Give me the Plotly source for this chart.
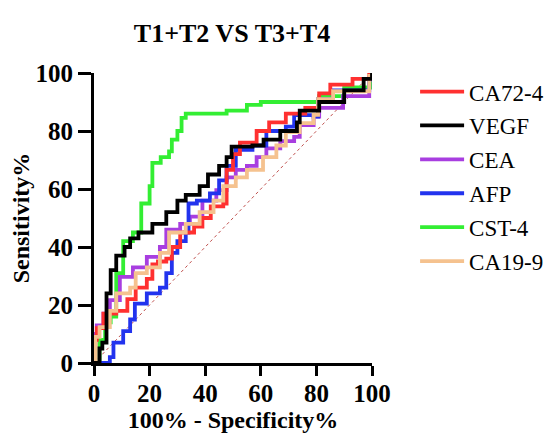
import plotly.graph_objects as go

# ---- data ----
names = ["CA72-4", "VEGF", "CEA", "AFP", "CST-4", "CA19-9"]
colors = ["#ff3030", "#000000", "#a83ee0", "#2233ee", "#33ee33", "#f5c28f"]

ca724_x = [0, 0.5, 1, 3.4, 8, 12, 15, 19, 21, 23, 26, 28, 31, 36, 39, 42, 46.5, 47.7, 50, 52.5, 58.5, 63, 69, 76, 81, 85, 93, 99, 100]
ca724_y = [0, 8, 12, 17, 18, 22, 26, 29, 34, 35, 36, 40, 45, 47, 50, 54, 55, 66.6, 72, 76, 80, 83, 86, 88, 93, 96, 98, 100, 100]

vegf_x = [0, 2, 3, 4.5, 6, 8, 11, 13, 16, 21, 24, 26, 30, 33, 38, 41, 45, 47.7, 49.5, 57, 61, 65.6, 67, 70, 73, 74, 79, 81, 90, 97, 100]
vegf_y = [0, 5, 7, 24, 32, 37, 40, 43, 45, 48, 48, 52, 56, 58, 61, 65, 68, 71, 74.6, 75, 77, 77, 80, 80, 83, 87, 87, 90, 94, 98, 100]

cea_x = [0, 1, 3.4, 5.7, 9.3, 14, 19, 23.7, 26, 31, 34.5, 39, 44, 47.7, 51, 55, 58.5, 62, 67, 72, 74, 79, 81, 89.6, 99, 100]
cea_y = [10, 13, 17, 21.7, 29.7, 33, 36.6, 40, 46, 48, 50.5, 56, 59.6, 64, 66.6, 68, 71, 74, 76.5, 78, 82, 85, 88, 92, 97.7, 100]

afp_x = [0, 2, 5.7, 7, 10.5, 13, 14.7, 19, 23.7, 26, 28, 30, 33, 34, 37, 41.7, 45, 47.7, 51, 57, 62, 69, 72, 79, 80.6, 86, 99, 100]
afp_y = [0, 0, 2, 7, 11, 15, 20.5, 24, 26, 31, 38, 42, 45, 55, 56, 58.5, 63, 68, 73.5, 75, 80, 81.5, 85.5, 85, 91, 94, 98.5, 100]

cst4_x = [0, 2, 4, 6, 8, 10.5, 14, 17, 20, 21, 24, 27, 28, 30, 31.5, 33, 43, 47.7, 55, 60, 73, 81, 90, 100]
cst4_y = [0, 8, 14, 16, 31, 42, 45, 55, 61, 69, 71, 73, 77, 80, 84.5, 86, 86, 87, 89, 90, 90, 92, 95, 100]

ca199_x = [0, 0.4, 2, 5.7, 8, 13, 15, 19, 23.7, 27, 33, 38, 43, 46.5, 51, 55, 60.8, 65.6, 69, 74, 79, 80.6, 86, 99, 100]
ca199_y = [0, 9, 12.4, 18, 24, 26, 31, 33, 38, 45, 48, 52, 56, 61, 64, 66.6, 71, 75, 79.6, 82.7, 85.6, 91, 93.7, 99, 100]

diag_x = [0, 100]
diag_y = [0, 100]

tick_vals = [0, 20, 40, 60, 80, 100]
tick_text = ["<b>0</b>", "<b>20</b>", "<b>40</b>", "<b>60</b>", "<b>80</b>", "<b>100</b>"]

xs = [ca724_x, vegf_x, cea_x, afp_x, cst4_x, ca199_x]
ys = [ca724_y, vegf_y, cea_y, afp_y, cst4_y, ca199_y]

draw_order = [4, 2, 3, 0, 5, 1]

FONT = "Liberation Serif"
W, H = 547, 431

fig = go.Figure()
fig.add_trace(go.Scatter(x=diag_x, y=diag_y, mode="lines",
                         line=dict(color="#c0504d", width=1, dash="dot"),
                         showlegend=False, hoverinfo="skip"))
for i in draw_order:
    fig.add_trace(go.Scatter(x=xs[i], y=ys[i], mode="lines", name=names[i],
                             line=dict(color=colors[i], width=3.8, shape="hv"),
                             legendrank=i + 1, legendgroup=names[i]))

fig.update_layout(
    width=W, height=H,
    margin=dict(l=86, r=183, t=65, b=76, autoexpand=False),
    paper_bgcolor="white", plot_bgcolor="white",
    font=dict(family=FONT, color="black"),
    title=dict(text="<b>T1+T2 VS T3+T4</b>", x=224 / W, xanchor="center",
               y=1 - 25 / H, yanchor="middle",
               font=dict(size=26, family=FONT, color="black")),
    legend=dict(x=1.155, xanchor="left", y=1.01, yanchor="top",
                font=dict(size=23, family=FONT), tracegroupgap=1,
                bgcolor="rgba(0,0,0,0)", itemwidth=44),
    showlegend=True,
)
fig.update_xaxes(range=[0, 100], tickvals=tick_vals, ticktext=tick_text,
                 showgrid=False, zeroline=False, showline=True, automargin=False,
                 linecolor="black", linewidth=3, ticks="outside",
                 ticklen=10, tickwidth=3, tickcolor="black",
                 ticklabelstandoff=-4,
                 tickfont=dict(size=25, family=FONT, color="black"),
                 title=dict(text="<b>100% - Specificity%</b>",
                            font=dict(size=24, family=FONT), standoff=4))
fig.update_yaxes(range=[0, 100], tickvals=tick_vals, ticktext=tick_text,
                 showgrid=False, zeroline=False, showline=True, automargin=False,
                 linecolor="black", linewidth=3, ticks="outside",
                 ticklen=13, tickwidth=3, tickcolor="black",
                 tickfont=dict(size=25, family=FONT, color="black"),
                 title=dict(text="<b>Sensitivity%</b>",
                            font=dict(size=24, family=FONT), standoff=6))

fig.write_html("out.html")
